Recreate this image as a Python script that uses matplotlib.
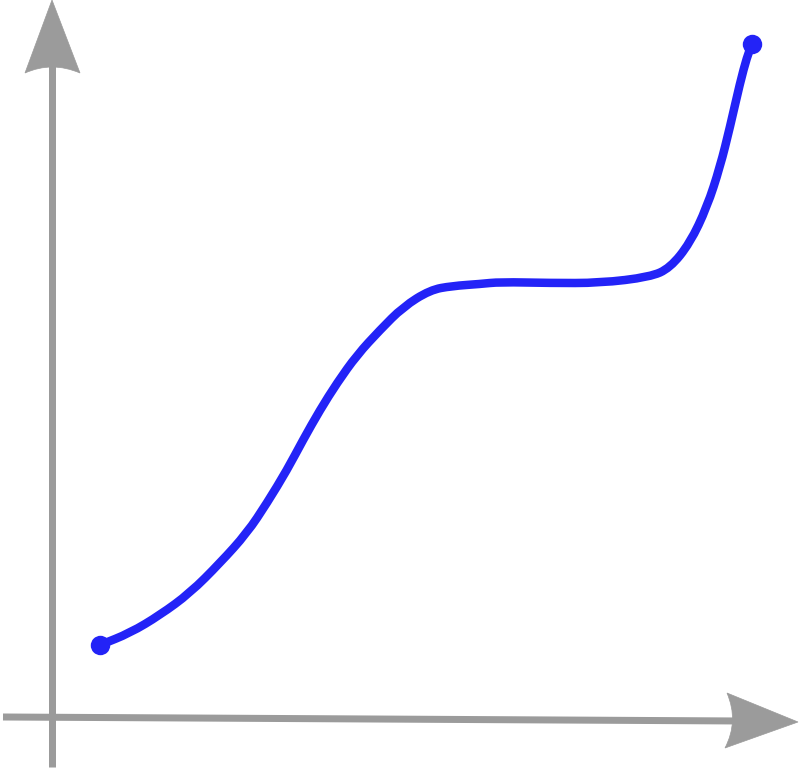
import matplotlib
matplotlib.use("Agg")
import matplotlib.pyplot as plt
from matplotlib.path import Path
from matplotlib.patches import PathPatch

# Curve values, measured from the axes origin (x to the right, y upwards)
curve_x = [48, 78, 108, 138, 168, 195, 215, 235, 251, 268, 285, 305, 328, 351,
           378, 400, 428, 448, 498, 548, 598, 618, 638, 655, 668, 678, 688, 695, 700]
curve_y = [72, 84, 102, 124, 154, 184, 214, 247, 277, 307, 334, 362, 387, 410,
           427, 431, 433, 435, 434, 434, 440, 449, 474, 510, 550, 590, 634, 660, 673]

GRAY = "#9b9b9b"
BLUE = "#2323f7"

fig = plt.figure(figsize=(8, 7.7), dpi=100)
ax = fig.add_axes([0, 0, 1, 1])
ax.set_xlim(-52, 748)
ax.set_ylim(-53, 717)
ax.axis("off")

# axes lines (origin at 0,0)
lw_axis = 7 * 72 / 100
ax.plot([-49, 690], [0, -4], color=GRAY, lw=lw_axis, solid_capstyle="butt", zorder=1)
ax.plot([0, 0], [-50, 660], color=GRAY, lw=lw_axis, solid_capstyle="butt", zorder=1)

# arrowheads with concave back
def head(tip, c1, ctrl, c2):
    verts = [tip, c1, ctrl, c2, tip, tip]
    codes = [Path.MOVETO, Path.LINETO, Path.CURVE3, Path.CURVE3, Path.LINETO, Path.CLOSEPOLY]
    return PathPatch(Path(verts, codes), facecolor=GRAY, edgecolor=GRAY, lw=0.5, zorder=2)

ax.add_patch(head((0, 717), (28, 644), (0, 656), (-27, 644)))
ax.add_patch(head((746, -5), (675, 24), (687, -4), (673, -31)))

# curve drawn as a smooth quadratic-Bezier path through the measured points
pts = list(zip(curve_x, curve_y))
verts = [pts[0]]
codes = [Path.MOVETO]
mid = lambda a, b: ((a[0] + b[0]) / 2, (a[1] + b[1]) / 2)
verts.append(mid(pts[0], pts[1]))
codes.append(Path.LINETO)
for i in range(1, len(pts) - 1):
    verts += [pts[i], mid(pts[i], pts[i + 1])]
    codes += [Path.CURVE3, Path.CURVE3]
verts.append(pts[-1])
codes.append(Path.LINETO)
lw_curve = 8.5 * 72 / 100
ax.add_patch(PathPatch(Path(verts, codes), facecolor="none", edgecolor=BLUE,
                       lw=lw_curve, capstyle="round", joinstyle="round", zorder=3))
ax.plot([curve_x[0], curve_x[-1]], [curve_y[0], curve_y[-1]], "o", color=BLUE,
        markersize=14, markeredgewidth=0, zorder=4)

fig.savefig("out.png", dpi=100)
